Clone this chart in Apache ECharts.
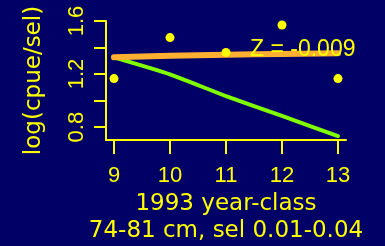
<!DOCTYPE html>
<html>
<head>
<meta charset="utf-8">
<style>
  html, body { margin: 0; padding: 0; background: #000066; }
  #chart { width: 385px; height: 246px; }
</style>
<script src="https://cdn.jsdelivr.net/npm/echarts@6/dist/echarts.min.js"></script>
</head>
<body>
<div id="chart"></div>
<script>
const ages = [9, 10, 11, 12, 13];
const observed = [1.166, 1.475, 1.363, 1.570, 1.166];
const fitFlat = [1.326, 1.338, 1.346, 1.352, 1.357];
const fitSel = [1.326, 1.198, 1.034, 0.884, 0.733];
const yTicks = [0.8, 1.0, 1.2, 1.4, 1.6];
const yLabels = [0.8, 1.2, 1.6];
const zText = "Z = -0.009";

const YELLOW = "#ffff00";
const pairs = (values) => ages.map((age, i) => [age, values[i]]);

const chart = echarts.init(document.getElementById("chart"));
chart.setOption({
  backgroundColor: "#000066",
  animation: false,
  grid: { left: 106, right: 39, top: 21, bottom: 105 },
  xAxis: {
    type: "value",
    min: 8.857,
    max: 13.143,
    name: "1993 year-class\n74-81 cm, sel 0.01-0.04",
    nameLocation: "middle",
    nameGap: 51,
    nameTextStyle: { color: YELLOW, fontFamily: "DejaVu Sans", fontSize: 23, lineHeight: 27 },
    axisLine: { lineStyle: { color: YELLOW, width: 2 } },
    axisTick: { length: 14, lineStyle: { color: YELLOW, width: 2 }, customValues: ages },
    axisLabel: { color: YELLOW, fontFamily: "Liberation Sans", fontSize: 22, margin: 25, customValues: ages },
    splitLine: { show: false }
  },
  yAxis: {
    type: "value",
    min: 0.703,
    max: 1.6,
    name: "log(cpue/sel)",
    nameLocation: "middle",
    nameRotate: 90,
    nameGap: 60,
    nameTextStyle: { color: YELLOW, fontFamily: "DejaVu Sans", fontSize: 23 },
    axisLine: { show: true, lineStyle: { color: YELLOW, width: 2 } },
    axisTick: { show: true, length: 12, lineStyle: { color: YELLOW, width: 2 }, customValues: yTicks },
    axisLabel: {
      color: YELLOW, fontFamily: "Liberation Sans", fontSize: 22, rotate: 90, margin: 18,
      customValues: yLabels,
      formatter: (v) => v.toFixed(1)
    },
    splitLine: { show: false }
  },
  series: [
    {
      type: "line",
      data: pairs(fitSel),
      smooth: 0.2,
      showSymbol: false,
      lineStyle: { color: "#80ff00", width: 4, cap: "round" },
      z: 2
    },
    {
      type: "line",
      data: pairs(fitFlat),
      smooth: true,
      showSymbol: false,
      lineStyle: { color: "#ffb030", width: 6, cap: "round" },
      z: 3
    },
    {
      type: "scatter",
      data: pairs(observed),
      symbolSize: 9,
      itemStyle: { color: YELLOW, opacity: 1 },
      z: 4
    }
  ],
  graphic: [{
    type: "text",
    left: 250,
    top: 38,
    z: 10,
    style: { text: zText, fill: YELLOW, font: "23px 'Liberation Sans'" }
  }]
});
</script>
</body>
</html>
